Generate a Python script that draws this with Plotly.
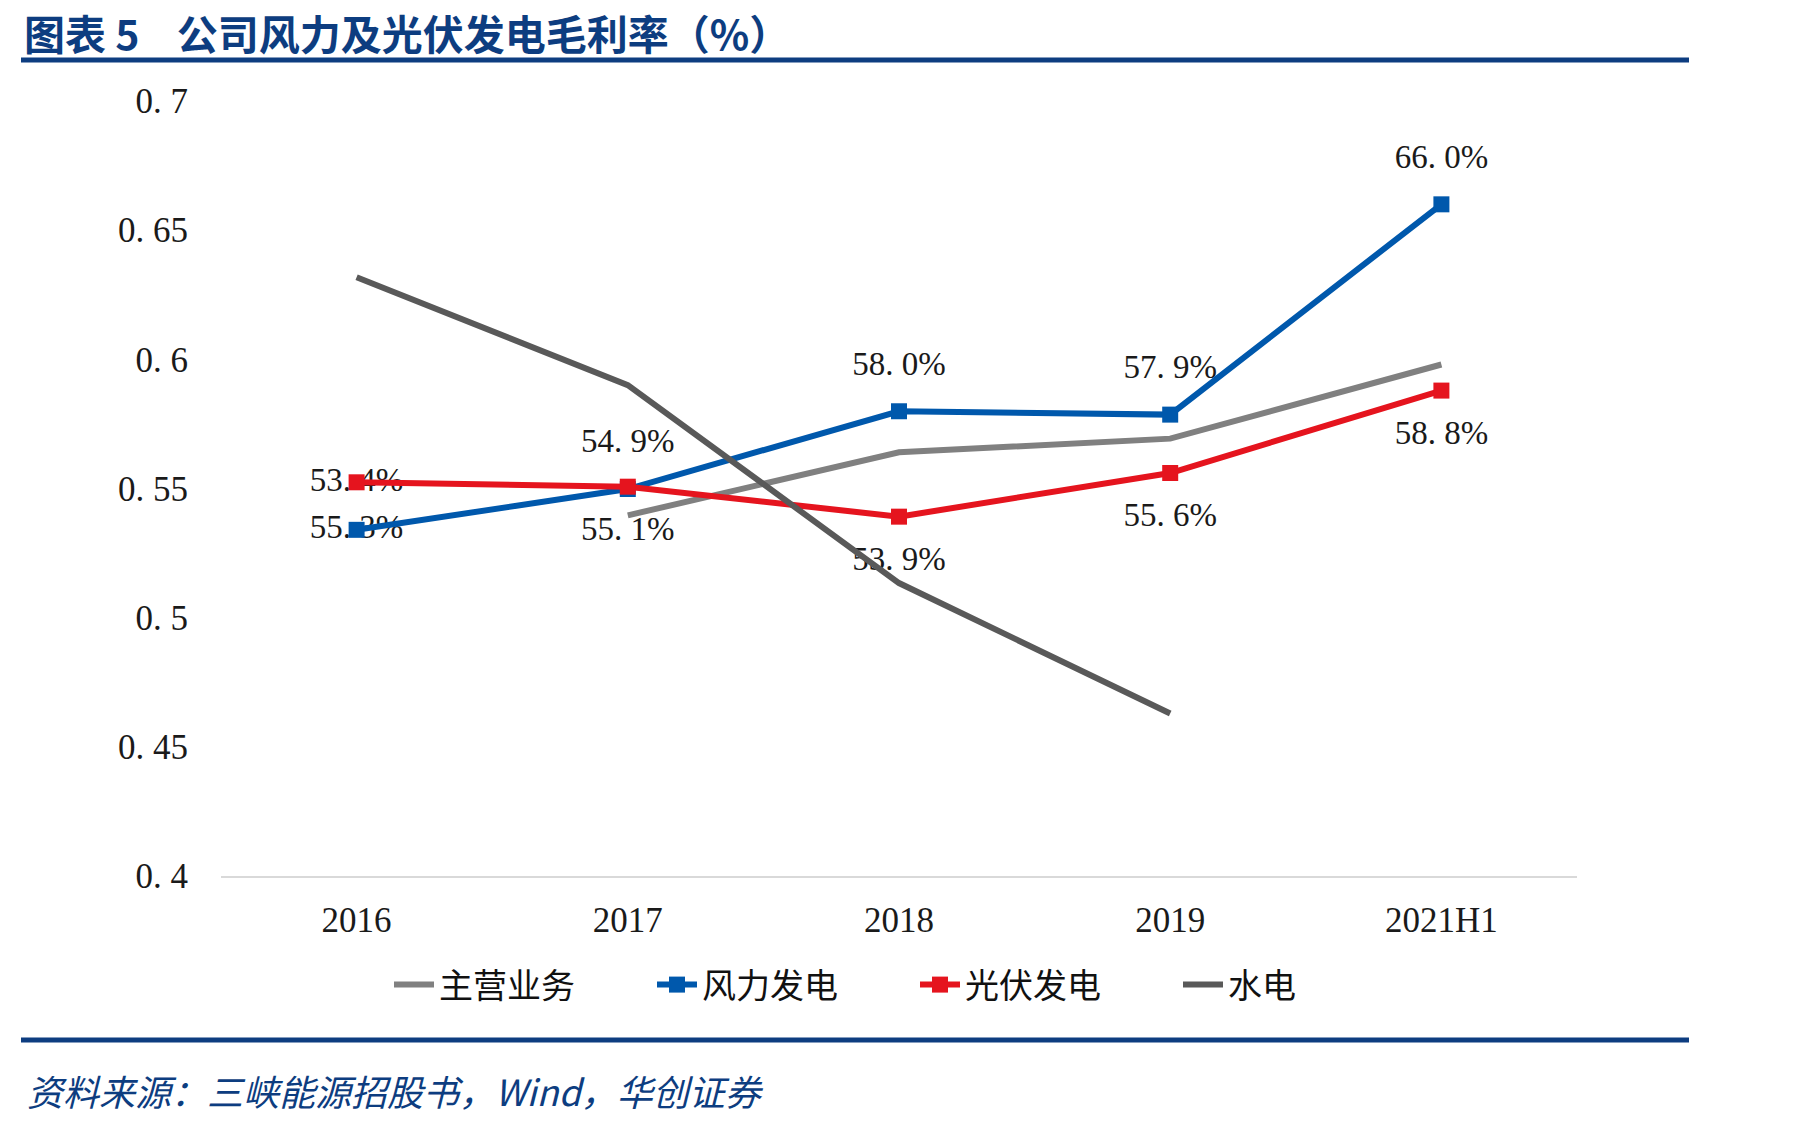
import plotly.graph_objects as go

# ---------------- data ----------------
categories = ["2016", "2017", "2018", "2019", "2021H1"]

main_business = [None, 0.5396, 0.564, 0.5693, 0.598]          # 主营业务
wind_power = [0.534, 0.5498, 0.5799, 0.5786, 0.660]            # 风力发电
solar_power = [0.5524, 0.5507, 0.5391, 0.556, 0.5879]          # 光伏发电
hydro_power = [0.6318, 0.590, 0.5134, 0.4629, None]            # 水电

wind_labels = ["55. 3%", "54. 9%", "58. 0%", "57. 9%", "66. 0%"]
solar_labels = ["53. 4%", "55. 1%", "53. 9%", "55. 6%", "58. 8%"]
wind_label_pos = ["center", "above", "above", "above", "above"]
solar_label_pos = ["center", "below", "below", "below", "below"]

y_ticks = [0.4, 0.45, 0.5, 0.55, 0.6, 0.65, 0.7]
y_tick_text = ["0. 4", "0. 45", "0. 5", "0. 55", "0. 6", "0. 65", "0. 7"]

series_names = ["主营业务", "风力发电", "光伏发电", "水电"]

title_text = "<b>图表 5    公司风力及光伏发电毛利率（%）</b>"
source_text = "<i>资料来源：三峡能源招股书，Wind，华创证券</i>"

# ---------------- layout geometry ----------------
FIG_W, FIG_H = 1795, 1124
L, R, T, B = 221, 1577, 101, 876
PW, PH = R - L, B - T
Y_MIN, Y_MAX = 0.4, 0.7
PX_PER_UNIT = PH / (Y_MAX - Y_MIN)
LABEL_OFFSET_PX = 45


def px2x(px):
    return (px - L) / PW


def py2y(py):
    return (B - py) / PH


BLUE = "#0058AC"
RED = "#E5141E"
GRAY = "#808080"
DARK = "#595959"
NAVY = "#0D3D80"
CJK = "Noto Sans CJK SC"
NUM = "Liberation Serif"


def label_y(vals, pos):
    out = []
    for v, p in zip(vals, pos):
        off = {"center": 0, "above": LABEL_OFFSET_PX, "below": -LABEL_OFFSET_PX}[p]
        out.append(v + off / PX_PER_UNIT)
    return out


fig = go.Figure()

# data labels first (so markers are drawn on top of them)
fig.add_trace(go.Scatter(
    x=categories, y=label_y(wind_power, wind_label_pos), mode="text",
    text=wind_labels, textposition="middle center",
    textfont=dict(family=NUM, size=33, color="#1a1a1a"),
    showlegend=False, hoverinfo="skip", cliponaxis=False))
fig.add_trace(go.Scatter(
    x=categories, y=label_y(solar_power, solar_label_pos), mode="text",
    text=solar_labels, textposition="middle center",
    textfont=dict(family=NUM, size=33, color="#1a1a1a"),
    showlegend=False, hoverinfo="skip", cliponaxis=False))

fig.add_trace(go.Scatter(
    x=categories, y=main_business, name=series_names[0], mode="lines",
    line=dict(color=GRAY, width=6), cliponaxis=False))
fig.add_trace(go.Scatter(
    x=categories, y=wind_power, name=series_names[1], mode="lines+markers",
    line=dict(color=BLUE, width=6),
    marker=dict(symbol="square", size=16, color=BLUE), cliponaxis=False))
fig.add_trace(go.Scatter(
    x=categories, y=solar_power, name=series_names[2], mode="lines+markers",
    line=dict(color=RED, width=6),
    marker=dict(symbol="square", size=16, color=RED), cliponaxis=False))
fig.add_trace(go.Scatter(
    x=categories, y=hydro_power, name=series_names[3], mode="lines",
    line=dict(color=DARK, width=6), cliponaxis=False))

fig.update_layout(
    width=FIG_W, height=FIG_H,
    margin=dict(l=L, r=FIG_W - R, t=T, b=FIG_H - B, pad=0),
    paper_bgcolor="white", plot_bgcolor="white",
    showlegend=True,
    legend=dict(
        orientation="h", x=px2x(915), xanchor="center",
        y=py2y(985), yanchor="middle",
        font=dict(family=CJK, size=34, color="#111111"),
        itemwidth=40, entrywidth=208, entrywidthmode="pixels",
        traceorder="normal", bgcolor="rgba(0,0,0,0)",
    ),
    xaxis=dict(
        type="category", range=[-0.5, 4.5],
        showgrid=False, zeroline=False,
        showline=True, linecolor="#d9d9d9", linewidth=2,
        ticks="", ticklabelstandoff=12,
        tickfont=dict(family=NUM, size=35, color="#1a1a1a"),
    ),
    yaxis=dict(
        range=[Y_MIN, Y_MAX], tickvals=y_ticks, ticktext=y_tick_text,
        showgrid=False, zeroline=False, showline=False,
        ticks="", ticklabelstandoff=32,
        tickfont=dict(family=NUM, size=35, color="#1a1a1a"),
    ),
    annotations=[
        dict(text=title_text, xref="paper", yref="paper",
             x=px2x(22), y=py2y(0), xanchor="left", yanchor="top",
             showarrow=False, font=dict(family=CJK, size=41, color=NAVY)),
        dict(text=source_text, xref="paper", yref="paper",
             x=px2x(25), y=py2y(1090), xanchor="left", yanchor="middle",
             showarrow=False, font=dict(family=CJK, size=36, color=NAVY)),
    ],
    shapes=[
        dict(type="line", xref="paper", yref="paper",
             x0=px2x(21), x1=px2x(1689), y0=py2y(60), y1=py2y(60),
             line=dict(color=NAVY, width=5)),
        dict(type="line", xref="paper", yref="paper",
             x0=px2x(21), x1=px2x(1689), y0=py2y(1040), y1=py2y(1040),
             line=dict(color=NAVY, width=5)),
    ],
)

fig.write_html("out.html")
